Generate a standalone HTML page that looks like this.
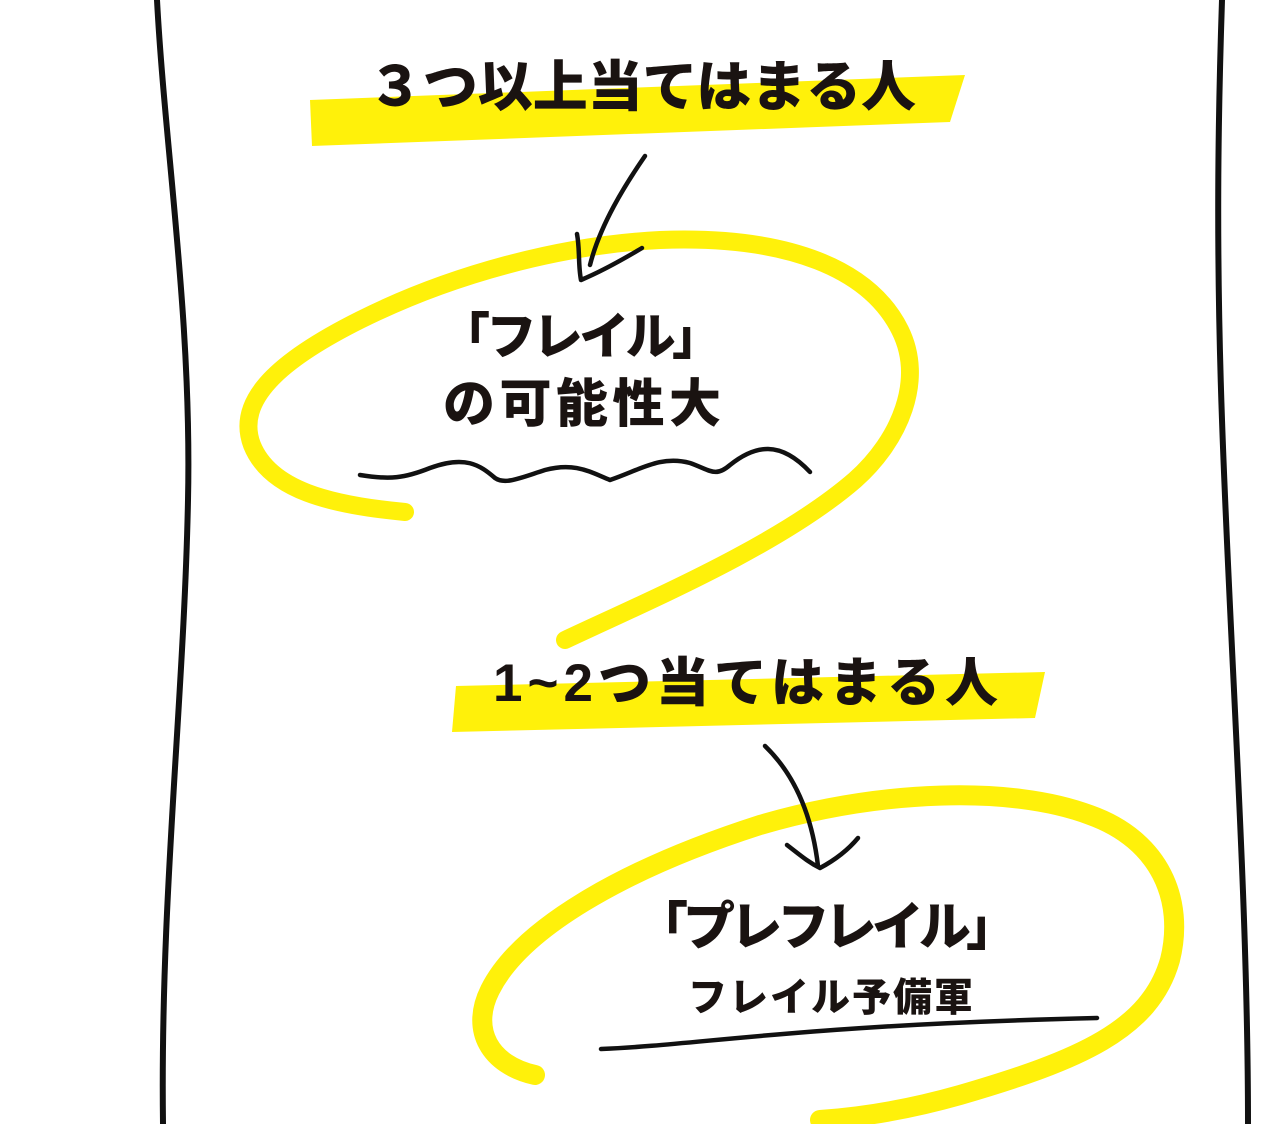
<!DOCTYPE html>
<html><head><meta charset="utf-8"><style>
html,body{margin:0;padding:0;background:#fff;width:1280px;height:1124px;overflow:hidden}
svg{display:block}
text{font-family:"Liberation Sans","Noto Sans CJK JP",sans-serif;font-weight:900;fill:#1a1311}
</style></head><body>
<svg width="1280" height="1124" viewBox="0 0 1280 1124" xmlns="http://www.w3.org/2000/svg">
<g fill="none" stroke="#111" stroke-width="6" stroke-linecap="round">
<path d="M157 0 C165 150 192 320 188 500 C184 700 160 900 163 1124"/>
<path d="M1222 0 C1218 120 1216 250 1222 420 C1230 650 1248 900 1248 1124"/>
</g>
<polygon points="310,100 965,75 950,122 312,146" fill="#fff10a"/>
<polygon points="456,686 1045,672 1035,718 452,732" fill="#fff10a"/>
<g fill="none" stroke="#fff10a" stroke-linecap="round">
<path d="M405 512 C330 505 270 490 252 445 C235 400 280 360 360 320 C450 275 560 245 660 240 C790 235 870 270 900 330 C925 380 900 440 855 480 C780 545 650 600 565 640" stroke-width="18"/>
<path d="M535 1075 C490 1065 470 1030 490 990 C520 930 620 870 760 825 C880 790 1010 785 1090 815 C1160 840 1185 900 1170 960 C1150 1030 1080 1060 960 1095 C900 1112 850 1118 820 1120" stroke-width="20"/>
</g>
<g fill="none" stroke="#111" stroke-width="4.5" stroke-linecap="round" stroke-linejoin="round">
<path d="M645 156 C625 185 600 225 590 265"/>
<path d="M577 234 C580 250 578 265 581 280 C600 272 622 260 642 248"/>
<path d="M360 475 C390 480 405 478 430 468 C465 455 480 465 495 478 C505 485 520 478 545 470 C575 462 590 472 610 480 C640 470 660 455 690 463 C710 470 715 478 730 465 C755 445 780 440 810 472"/>
<path d="M765 746 C795 775 812 815 818 866"/>
<path d="M787 845 C800 855 808 862 820 868 C835 860 848 850 858 838"/>
<path d="M601 1049 C700 1045 800 1025 1097 1018"/>
</g>
<text x="368" y="106" font-size="55" textLength="548" lengthAdjust="spacing">３つ以上当てはまる人</text>
<text x="440" y="354" font-size="50" textLength="282" lengthAdjust="spacing">「フレイル」</text>
<text x="443" y="422" font-size="52" textLength="278" lengthAdjust="spacing">の可能性大</text>
<text x="493" y="701" font-size="53" textLength="505" lengthAdjust="spacing">1~2つ当てはまる人</text>
<text x="636" y="945" font-size="52" textLength="382" lengthAdjust="spacing">「プレフレイル」</text>
<text x="688" y="1011" font-size="39" textLength="285" lengthAdjust="spacing">フレイル予備軍</text>
</svg>
</body></html>
